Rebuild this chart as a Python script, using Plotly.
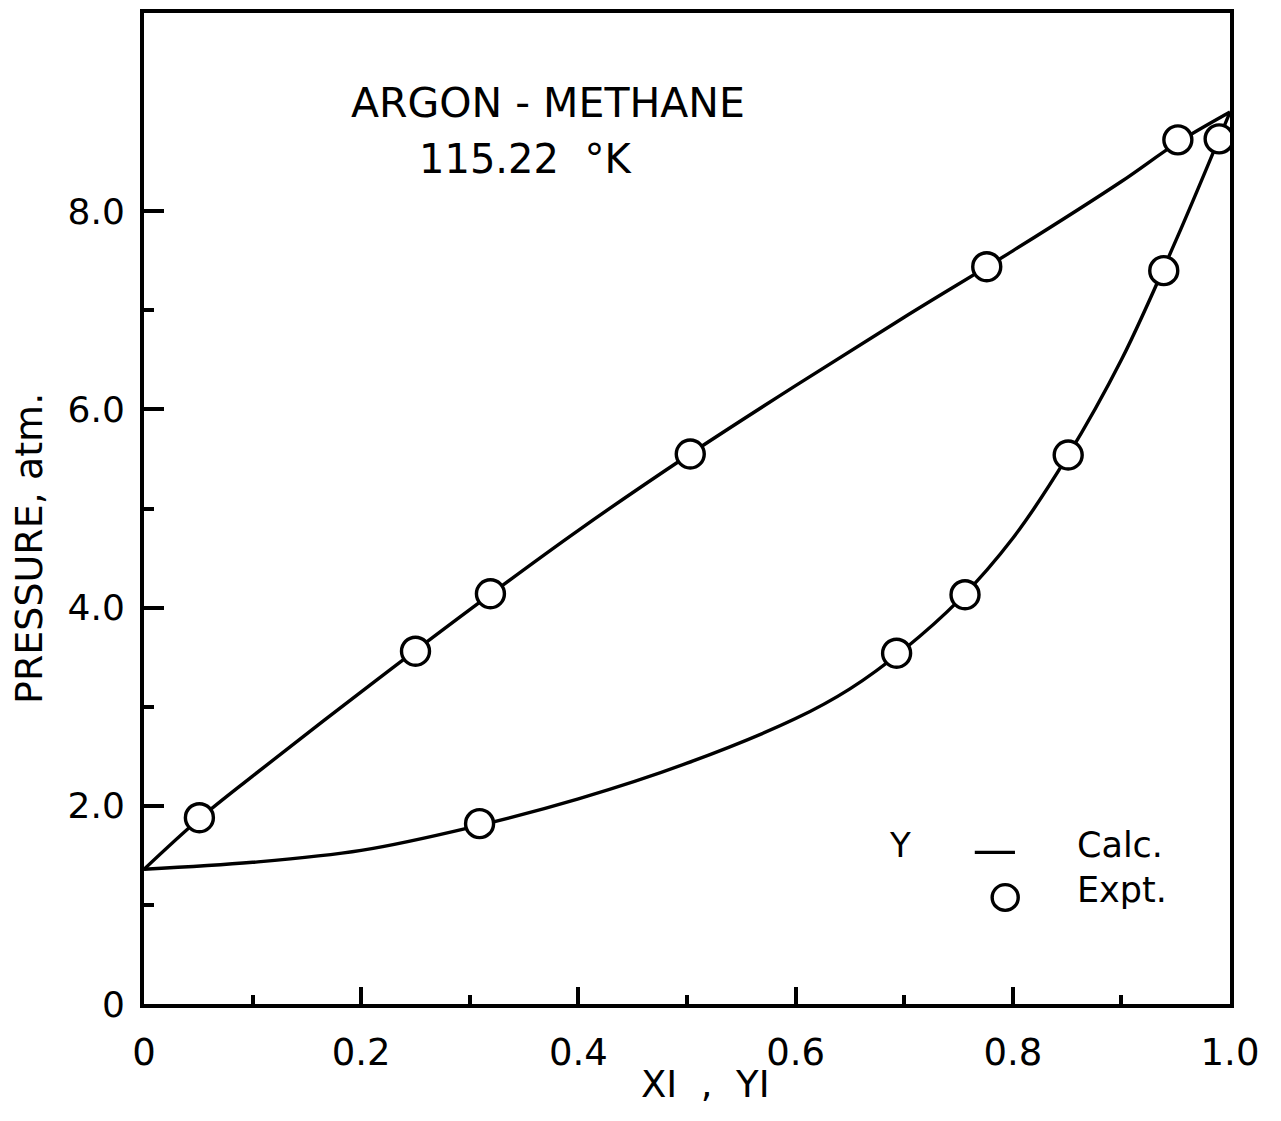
import plotly.graph_objects as go

# ---- data ----
upper_calc_x = [0, 0.05, 0.1, 0.2, 0.3, 0.4, 0.5, 0.6, 0.7, 0.8, 0.9, 0.95, 1.0]
upper_calc_p = [1.36, 1.86, 2.30, 3.15, 3.98, 4.78, 5.53, 6.24, 6.93, 7.60, 8.30, 8.68, 9.00]

lower_calc_x = [0, 0.1, 0.2, 0.3, 0.4, 0.5, 0.6, 0.65, 0.7, 0.75, 0.8, 0.85, 0.9, 0.95, 1.0]
lower_calc_p = [1.36, 1.43, 1.55, 1.78, 2.07, 2.43, 2.88, 3.18, 3.58, 4.07, 4.70, 5.52, 6.50, 7.70, 9.00]

upper_expt_x = [0.051, 0.250, 0.319, 0.503, 0.776, 0.952]
upper_expt_p = [1.88, 3.56, 4.14, 5.55, 7.44, 8.72]

lower_expt_x = [0.309, 0.693, 0.756, 0.851, 0.939, 0.990]
lower_expt_p = [1.82, 3.54, 4.13, 5.54, 7.40, 8.73]

x_tickvals = [0, 0.2, 0.4, 0.6, 0.8, 1.0]
x_ticktext = ["0", "0.2", "0.4", "0.6", "0.8", "1.0"]
y_tickvals = [0, 2, 4, 6, 8]
y_ticktext = ["0", "2.0", "4.0", "6.0", "8.0"]

FONT = "DejaVu Sans"
BLACK = "#000000"

fig = go.Figure()

for xs, ps in [(upper_calc_x, upper_calc_p), (lower_calc_x, lower_calc_p)]:
    fig.add_trace(go.Scatter(
        x=xs, y=ps, mode="lines", name="Calc.", showlegend=False,
        line=dict(color=BLACK, width=3.4, shape="spline", smoothing=1.0),
        hoverinfo="skip"))

for xs, ps in [(upper_expt_x, upper_expt_p), (lower_expt_x, lower_expt_p)]:
    fig.add_trace(go.Scatter(
        x=xs, y=ps, mode="markers", name="Expt.", showlegend=False,
        marker=dict(symbol="circle", size=28, color="white",
                    line=dict(color=BLACK, width=3.4))))

fig.update_layout(
    width=1281, height=1121,
    margin=dict(l=144, r=51, t=9, b=117),
    paper_bgcolor="white", plot_bgcolor="white",
    font=dict(family=FONT, color=BLACK),
    showlegend=False,
)

fig.update_xaxes(
    range=[0, 1.0], showgrid=False, zeroline=False,
    showline=True, linecolor=BLACK, linewidth=4, mirror=True,
    tickvals=x_tickvals, ticktext=x_ticktext,
    ticks="inside", ticklen=17, tickwidth=3.5, tickcolor=BLACK,
    minor=dict(tickvals=[0.1, 0.3, 0.5, 0.7, 0.9], ticks="inside",
               ticklen=9, tickwidth=3.5, tickcolor=BLACK),
    tickfont=dict(family=FONT, size=37, color=BLACK),
    ticklabelstandoff=13,
)
fig.update_yaxes(
    range=[0, 10], showgrid=False, zeroline=False,
    showline=True, linecolor=BLACK, linewidth=4, mirror=True,
    tickvals=y_tickvals, ticktext=y_ticktext,
    ticks="inside", ticklen=20, tickwidth=3.5, tickcolor=BLACK,
    minor=dict(tickvals=[1, 3, 5, 7], ticks="inside",
               ticklen=10, tickwidth=3.5, tickcolor=BLACK),
    tickfont=dict(family=FONT, size=36, color=BLACK),
    ticklabelstandoff=8,
)

def note(text, x, y, size, xanchor="center", **kw):
    fig.add_annotation(text=text, xref="paper", yref="paper", x=x, y=y,
                       xanchor=xanchor, yanchor="middle", showarrow=False,
                       font=dict(family=FONT, size=size, color=BLACK), **kw)

# titles and axis labels
note("ARGON - METHANE", 0.372, 0.909, 41)
note("115.22  °K", 0.351, 0.853, 40)
note("XI  ,  YI", 0.517, -0.081, 37)
note("PRESSURE, atm.", -0.106, 0.46, 38, textangle=-90)

# key
note("Y", 0.696, 0.160, 34)
fig.add_shape(type="line", xref="paper", yref="paper",
              x0=0.765, x1=0.802, y0=0.153, y1=0.153,
              line=dict(color=BLACK, width=3.4))
note("Calc.", 0.857, 0.160, 35, xanchor="left")
fig.add_shape(type="circle", xref="paper", yref="paper",
              x0=0.781, x1=0.805, y0=0.0945, y1=0.1205,
              line=dict(color=BLACK, width=3.4), fillcolor="white")
note("Expt.", 0.857, 0.1146, 35, xanchor="left")

fig.write_html("out.html")
